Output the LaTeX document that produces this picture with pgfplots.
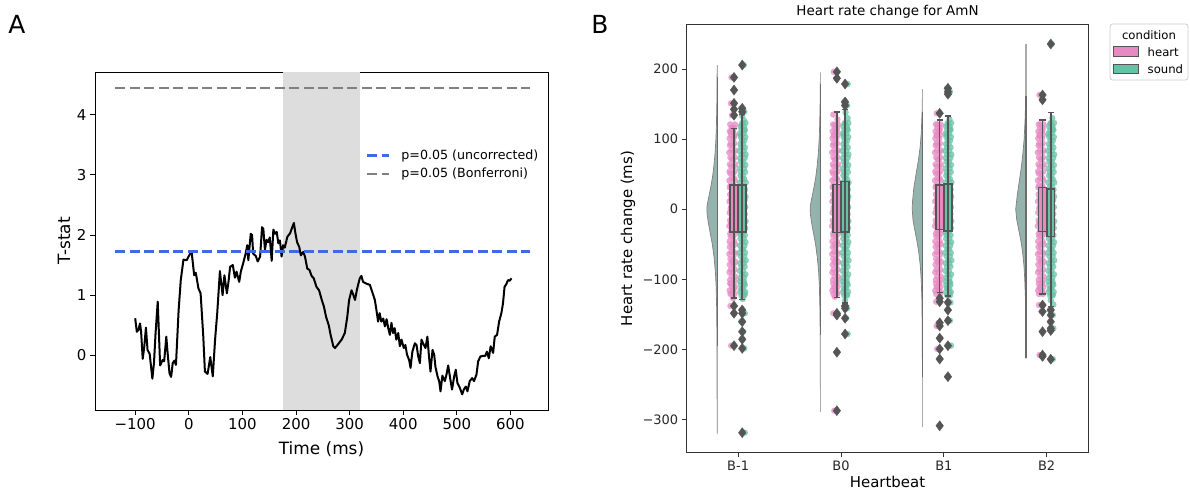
\documentclass[border=0pt]{standalone}
\usepackage{fontspec}
\setmainfont{DejaVu Sans}
\usepackage{pgfplots}
\usepackage{pgfplotstable}
\pgfplotsset{compat=1.18}
\definecolor{heartc}{HTML}{E78AC3}
\definecolor{soundc}{HTML}{66C2A5}
\definecolor{edgec}{HTML}{555555}
\definecolor{violc}{HTML}{94B3AD}
\definecolor{violedge}{HTML}{808080}
\definecolor{blueline}{HTML}{4169E1}
\definecolor{shadec}{HTML}{DDDDDD}

\pgfplotstableread{
y a b
-121 -0.018 0.020
-116 -0.027 0.008
-111 -0.006 0.024
-106 -0.020 0.013
-101 -0.022 0.018
-96 -0.008 0.027
-90 -0.028 0.006
-86 -0.015 0.021
-79 -0.025 0.012
-75 -0.004 0.029
-71 -0.019 0.009
-64 -0.029 0.024
-61 -0.011 0.015
-54 -0.024 0.003
-50 -0.006 0.026
-46 -0.027 0.017
-39 -0.016 0.008
-35 -0.021 0.028
-31 -0.009 0.013
-24 -0.030 0.020
-20 -0.013 0.005
-16 -0.023 0.025
-9 -0.003 0.016
-5 -0.026 0.010
1 -0.017 0.030
4 -0.010 0.007
11 -0.028 0.022
14 -0.014 0.012
21 -0.022 0.027
24 -0.005 0.004
31 -0.025 0.019
34 -0.018 0.011
41 -0.029 0.025
44 -0.008 0.016
51 -0.020 0.006
54 -0.027 0.023
61 -0.012 0.014
64 -0.024 0.029
71 -0.004 0.009
74 -0.019 0.020
81 -0.030 0.013
84 -0.010 0.026
91 -0.023 0.004
94 -0.015 0.018
101 -0.026 0.011
106 -0.012 0.022
111 -0.025 0.006
116 -0.007 0.017
121 -0.021 0.026
}\coreH

\pgfplotstableread{
y a b
-123 0.016 -0.012
-118 0.025 -0.024
-113 0.006 -0.005
-108 0.021 -0.019
-103 0.011 -0.027
-98 0.012 -0.021
-93 0.027 -0.006
-88 0.004 -0.028
-82 0.020 -0.013
-77 0.009 -0.024
-73 0.030 -0.003
-67 0.015 -0.018
-62 0.024 -0.030
-57 0.006 -0.010
-52 0.018 -0.025
-47 0.028 -0.007
-42 0.010 -0.022
-37 0.022 -0.015
-33 0.003 -0.027
-27 0.025 -0.012
-22 0.014 -0.029
-17 0.029 -0.004
-12 0.007 -0.019
-7 0.021 -0.024
-2 0.011 -0.008
3 0.026 -0.026
8 0.005 -0.016
13 0.019 -0.009
18 0.028 -0.023
23 0.013 -0.002
28 0.023 -0.020
33 0.008 -0.011
38 0.030 -0.028
43 0.016 -0.006
48 0.002 -0.021
53 0.024 -0.014
58 0.012 -0.027
63 0.027 -0.005
68 0.006 -0.017
73 0.020 -0.025
78 0.029 -0.010
83 0.010 -0.030
88 0.022 -0.013
93 0.004 -0.022
98 0.017 -0.007
103 0.026 -0.019
108 0.009 -0.026
113 0.022 -0.010
118 0.013 -0.021
123 0.028 -0.004
}\coreS

\begin{document}
\begin{tikzpicture}
\useasboundingbox (0,0) rectangle (1190bp,495bp);
% ---------------- Panel A ----------------
\begin{axis}[
  at={(95bp,85bp)}, anchor=south west, scale only axis,
  width=453bp, height=338bp,
  xmin=-175, xmax=670, ymin=-0.91, ymax=4.71,
  xtick={-100,0,100,200,300,400,500,600},
  xticklabels={−100,0,100,200,300,400,500,600},
  ytick={0,1,2,3,4}, yticklabels={0,1,2,3,4},
  tick align=outside, tick pos=left, major tick length=5bp,
  tick style={line width=0.9bp, black},
  tick label style={font=\fontsize{15}{18}\selectfont},
  axis line style={line width=0.9bp},
  legend style={draw=none, fill=none, at={(rel axis cs:0.595,0.775)}, anchor=north west,
    font=\fontsize{12.7}{15}\selectfont, row sep=5bp, inner sep=1bp,
    nodes={inner sep=1bp},
    /tikz/every odd column/.append style={column sep=10bp}},
  legend cell align=left,
  legend image code/.code={\draw[#1] (0bp,0bp) -- (22bp,0bp);},
]
\addplot[fill=shadec, draw=none, forget plot] coordinates {(175,-0.91) (320,-0.91) (320,4.71) (175,4.71)};
\addplot[black, line width=2bp, line join=round, forget plot] coordinates {
(-100,0.615) (-97,0.39) (-94,0.42) (-91,0.53) (-89,0.39) (-86,-0.06) (-83,0.15) (-80,0.46) (-77,0.09) (-73,0.02) (-68,-0.39) (-65,-0.13) (-62,0.37) (-58,0.89) (-53.5,-0.17) (-49,-0.08) (-46,-0.10) (-42,0.31) (-39,-0.02) (-36,-0.30) (-33,-0.36) (-30,-0.13) (-27,-0.09) (-24,-0.16) (-19,0.75) (-15,1.25) (-10,1.59) (-4,1.58) (2.4,1.69) (5.5,1.70) (10,1.33) (13,1.37) (18,1.11) (22,1.03) (27,0.31) (30,-0.27) (35,-0.31) (40,-0.03) (44.7,-0.35) (49,0.26) (53,0.70) (58,1.40) (63,1.00) (66.4,1.33) (71,1.03) (74,1.22) (77,1.47) (82,1.50) (86,1.29) (89,1.39) (94,1.22) (97,1.39) (102,1.55) (106,1.69) (109,1.83) (111,1.58) (115.5,2.02) (118,2.00) (120,1.69) (125,1.65) (128.5,1.56) (133,1.64) (136.6,2.13) (139,2.10) (142,1.75) (145,1.92) (148,1.88) (151,1.96) (154.6,1.57) (157.7,2.09) (161,2.02) (164,2.05) (167,1.86) (170,1.91) (173,1.64) (176,1.83) (179,1.79) (183.8,1.97) (189,2.03) (193,2.13) (196,2.20) (199,2.02) (202,1.88) (206,1.80) (209,1.66) (213.6,1.72) (216.7,1.64) (221,1.44) (225,1.42) (229,1.32) (233,1.28) (238,1.14) (243,1.08) (248,0.92) (252,0.81) (256,0.64) (261,0.50) (264.5,0.34) (269.5,0.15) (272.6,0.12) (279,0.19) (285,0.26) (291,0.37) (295.6,0.64) (299,0.92) (303.6,1.08) (307,1.00) (310,0.92) (314,1.11) (319,1.28) (322,1.32) (325,1.22) (331.6,1.19) (337.8,1.17) (343,1.03) (347,0.92) (350,0.75) (353,0.56) (356,0.70) (359,0.56) (362.7,0.61) (365.8,0.48) (368.9,0.60) (372,0.45) (375,0.34) (378,0.54) (381,0.37) (384,0.45) (387,0.26) (390.6,0.37) (393.7,0.15) (396.8,0.26) (401,0.12) (404,0.17) (407,0.01) (411,-0.08) (413.6,-0.21) (417,0.06) (421.7,0.20) (424.8,0.17) (427.9,-0.02) (431,-0.13) (434,0.26) (437,0.20) (441.5,0.12) (445,0.31) (448,-0.02) (450.8,-0.27) (454.6,0.09) (457.7,0.01) (460,-0.19) (463.9,-0.35) (467,-0.43) (469.5,-0.60) (473,-0.34) (477.6,-0.43) (480.7,-0.32) (483.8,-0.17) (488,-0.41) (491,-0.57) (495,-0.35) (498,-0.24) (501,-0.46) (505.5,-0.54) (509.9,-0.65) (513,-0.57) (516.7,-0.52) (519.8,-0.60) (524,-0.43) (528.5,-0.38) (532,-0.43) (536.6,-0.32) (539.7,-0.10) (544,-0.02) (549,-0.01) (553,-0.01) (556,0.06) (559.6,-0.05) (563,0.15) (567.6,0.04) (570.7,0.31) (575,0.34) (578.8,0.56) (583,0.70) (586,0.86) (589,1.14) (592,1.18) (595.5,1.25) (598.7,1.24) (601.8,1.28)
};
\addplot[blueline, line width=2.7bp, dash pattern=on 10bp off 4.5bp] coordinates {(-137,1.72) (636,1.72)};
\addlegendentry{p=0.05 (uncorrected)}
\addplot[gray, line width=2.7bp, dash pattern=on 10bp off 4.5bp] coordinates {(-137,4.445) (636,4.445)};
\addlegendentry{p=0.05 (Bonferroni)}
\end{axis}
\node[font=\fontsize{17}{20}\selectfont, rotate=90] at (64bp,254bp) {T-stat};
\node[font=\fontsize{17}{20}\selectfont] at (321.5bp,46bp) {Time (ms)};
\node[font=\fontsize{25}{30}\selectfont] at (17bp,471bp) {A};
\node[font=\fontsize{25}{30}\selectfont] at (600bp,471bp) {B};

% ---------------- Panel B ----------------
\begin{axis}[
  at={(686.7bp,42.7bp)}, anchor=south west, scale only axis,
  width=401.6bp, height=427.6bp,
  xmin=-0.5, xmax=3.405, ymin=-346.8, ymax=263.2,
  xtick={0,1,2,3}, xticklabels={B-1,B0,B1,B2},
  ytick={-300,-200,-100,0,100,200}, yticklabels={−300,−200,−100,0,100,200},
  tick align=outside, tick pos=left, major tick length=5bp,
  tick style={line width=0.9bp, black!80},
  tick label style={font=\fontsize{13}{15}\selectfont, text=black!85},
  axis line style={line width=0.9bp, black!80},
  unbounded coords=jump,
  clip marker paths=true,
  heartpts/.style={color=heartc, only marks, mark=*, mark size=3.2bp, mark options={draw opacity=0, fill=heartc, fill opacity=0.75}},
  soundpts/.style={color=soundc, only marks, mark=*, mark size=3.2bp, mark options={draw opacity=0, fill=soundc, fill opacity=0.75}},
  outl/.style={color=edgec, only marks, mark=diamond*, mark size=5bp, mark options={fill=edgec, draw=edgec}},
  bx/.style={draw=edgec, line width=1.5bp, line cap=rect, line join=miter},
  wh/.style={draw=edgec, line width=1.5bp},
  viol/.style={fill=violc, draw=violedge, line width=0.7bp},
]
% violins
\addplot[viol] coordinates {(-0.204,205) (-0.205,180) (-0.207,150) (-0.211,120) (-0.216,100) (-0.224,80) (-0.237,60) (-0.250,45) (-0.268,30) (-0.289,15) (-0.302,5) (-0.304,0) (-0.301,-8) (-0.289,-20) (-0.270,-35) (-0.251,-50) (-0.233,-70) (-0.221,-90) (-0.214,-110) (-0.209,-140) (-0.206,-180) (-0.2048,-240) (-0.204,-320)};
\addplot[viol] coordinates {(0.800,195) (0.799,170) (0.797,150) (0.793,120) (0.788,100) (0.780,80) (0.767,60) (0.754,45) (0.736,30) (0.715,15) (0.702,5) (0.700,0) (0.703,-8) (0.715,-20) (0.734,-35) (0.753,-50) (0.771,-70) (0.783,-90) (0.790,-110) (0.795,-140) (0.798,-180) (0.7992,-240) (0.800,-289)};
\addplot[viol] coordinates {(1.793,171) (1.789,140) (1.781,110) (1.771,90) (1.753,70) (1.730,50) (1.708,30) (1.695,10) (1.693,0) (1.700,-15) (1.718,-30) (1.738,-45) (1.755,-60) (1.771,-80) (1.780,-100) (1.787,-130) (1.790,-170) (1.792,-240) (1.793,-310)};
\addplot[viol] coordinates {(2.799,236) (2.798,200) (2.796,160) (2.791,130) (2.781,100) (2.769,80) (2.754,60) (2.734,40) (2.714,20) (2.699,0) (2.709,-15) (2.729,-30) (2.749,-45) (2.765,-60) (2.779,-80) (2.787,-100) (2.794,-130) (2.797,-170) (2.799,-213)};
% violin edge lines
\addplot[color=black!33, line width=1.2bp] coordinates {(-0.204,205.7) (-0.204,-319.7)};
\addplot[color=black!58, line width=1.2bp] coordinates {(-0.204,189) (-0.204,-194.7)};
\addplot[color=black!33, line width=1.2bp] coordinates {(0.800,194.7) (0.800,-288.8)};
\addplot[color=black!58, line width=1.2bp] coordinates {(0.800,178) (0.800,-180)};
\addplot[color=black!33, line width=1.2bp] coordinates {(1.793,171) (1.793,-310)};
\addplot[color=black!58, line width=1.2bp] coordinates {(1.793,139) (1.793,-239)};
\addplot[color=black!33, line width=1.2bp] coordinates {(2.799,235.7) (2.799,-212.7)};
\addplot[color=black!58, line width=1.2bp] coordinates {(2.799,161.5) (2.799,-212.7)};
% strip points: cores
\pgfplotsinvokeforeach{0,1,2,3}{
  \addplot[heartpts] table[x expr=#1-0.056+\thisrow{a}, y=y] {\coreH};
  \addplot[heartpts] table[x expr=#1-0.056+\thisrow{b}, y=y] {\coreH};
}
% strip points: tails (heart)
\addplot[heartpts] coordinates {(-0.07,110) (-0.04,104) (-0.06,116) (-0.05,112) (-0.075,-106) (-0.04,-113) (-0.06,-120) (-0.05,-127)
 (-0.065,188) (-0.035,170) (-0.07,151) (-0.045,142.5) (-0.06,134) (-0.075,-138) (-0.04,-148.5) (-0.068,-194.7)};
\addplot[heartpts] coordinates {(0.93,105) (0.96,112) (0.94,120) (0.965,128) (0.925,135) (0.955,-105) (0.93,-112) (0.96,-119) (0.94,-125)
 (0.93,196) (0.96,186.7) (0.925,-148.5) (0.955,-151) (0.965,-204) (0.935,-287.4)};
\addplot[heartpts] coordinates {(1.93,105) (1.96,113) (1.94,121) (1.955,-104) (1.93,-111) (1.96,-117)
 (1.93,136.8) (1.96,-127) (1.925,-132) (1.95,-162) (1.93,-166.6) (1.965,-184) (1.935,-199.4) (1.955,-213.7) (1.96,-309)};
\addplot[heartpts] coordinates {(2.93,105) (2.96,113) (2.94,121) (2.955,-105) (2.93,-112) (2.96,-118)
 (2.93,163) (2.955,156) (2.925,-136.7) (2.95,-146) (2.96,-174.7) (2.93,-208) (2.955,-210)};
\pgfplotsinvokeforeach{0,1,2,3}{
  \addplot[soundpts] table[x expr=#1+0.044+\thisrow{a}, y=y] {\coreS};
  \addplot[soundpts] table[x expr=#1+0.044+\thisrow{b}, y=y] {\coreS};
}
% strip points: tails (sound)
\addplot[soundpts] coordinates {(0.03,106) (0.06,113) (0.035,120) (0.055,127) (0.04,133) (0.06,-106) (0.03,-114) (0.065,-121) (0.045,-128)
 (0.055,205.7) (0.03,144) (0.06,139) (0.035,-143.8) (0.065,-148.5) (0.03,-160.5) (0.05,-174.7) (0.035,-185.6) (0.06,-198.5) (0.065,-318.8)};
\addplot[soundpts] coordinates {(1.03,106) (1.06,114) (1.035,122) (1.065,130) (1.045,138) (1.06,-106) (1.03,-114) (1.055,-122) (1.04,-130)
 (1.06,148) (1.03,153) (1.065,178.6) (1.035,-138) (1.06,-141.4) (1.05,-155.6) (1.065,-178)};
\addplot[soundpts] coordinates {(2.03,106) (2.06,114) (2.035,121) (2.055,128) (2.06,-105) (2.03,-112) (2.055,-119)
 (2.03,172.5) (2.06,167.6) (2.045,164) (2.065,-133) (2.035,-143.8) (2.06,-159) (2.07,-194.7) (2.035,-239)};
\addplot[soundpts] coordinates {(3.03,106) (3.06,114) (3.035,122) (3.055,130) (3.06,-106) (3.03,-114) (3.055,-122) (3.04,-130) (3.065,-136)
 (3.05,235.7) (3.03,-143.8) (3.06,-151) (3.035,-160.5) (3.065,-170) (3.04,-173) (3.06,-214)};
% boxes (quartiles), heart at c-0.04, sound at c+0.04, width 0.075
\addplot[bx, fill=heartc] coordinates {(-0.0775,-32.5) (-0.0025,-32.5) (-0.0025,34.5) (-0.0775,34.5) (-0.0775,-32.5)};
\addplot[bx, fill=soundc] coordinates {(0.0025,-32.6) (0.0775,-32.6) (0.0775,34.5) (0.0025,34.5) (0.0025,-32.6)};
\addplot[bx, fill=heartc] coordinates {(0.9225,-33) (0.9975,-33) (0.9975,35.5) (0.9225,35.5) (0.9225,-33)};
\addplot[bx, fill=soundc] coordinates {(1.0025,-32.6) (1.0775,-32.6) (1.0775,39.3) (1.0025,39.3) (1.0025,-32.6)};
\addplot[bx, fill=heartc] coordinates {(1.9225,-28.7) (1.9975,-28.7) (1.9975,34.5) (1.9225,34.5) (1.9225,-28.7)};
\addplot[bx, fill=soundc] coordinates {(2.0025,-30.8) (2.0775,-30.8) (2.0775,36) (2.0025,36) (2.0025,-30.8)};
\addplot[bx, fill=heartc] coordinates {(2.9225,-31.5) (2.9975,-31.5) (2.9975,31.2) (2.9225,31.2) (2.9225,-31.5)};
\addplot[bx, fill=soundc] coordinates {(3.0025,-39.2) (3.0775,-39.2) (3.0775,28.6) (3.0025,28.6) (3.0025,-39.2)};
% whiskers with caps
\addplot[wh] coordinates {(-0.07,-127) (-0.01,-127) (nan,nan) (-0.04,-127) (-0.04,115) (nan,nan) (-0.07,115) (-0.01,115)};
\addplot[wh] coordinates {(0.01,-128.6) (0.07,-128.6) (nan,nan) (0.04,-128.6) (0.04,135) (nan,nan) (0.01,135) (0.07,135)};
\addplot[wh] coordinates {(0.93,-125.7) (0.99,-125.7) (nan,nan) (0.96,-125.7) (0.96,139) (nan,nan) (0.93,139) (0.99,139)};
\addplot[wh] coordinates {(1.01,-134) (1.07,-134) (nan,nan) (1.04,-134) (1.04,142) (nan,nan) (1.01,142) (1.07,142)};
\addplot[wh] coordinates {(1.93,-119) (1.99,-119) (nan,nan) (1.96,-119) (1.96,127) (nan,nan) (1.93,127) (1.99,127)};
\addplot[wh] coordinates {(2.01,-123.8) (2.07,-123.8) (nan,nan) (2.04,-123.8) (2.04,133) (nan,nan) (2.01,133) (2.07,133)};
\addplot[wh] coordinates {(2.93,-121) (2.99,-121) (nan,nan) (2.96,-121) (2.96,127) (nan,nan) (2.93,127) (2.99,127)};
\addplot[wh] coordinates {(3.01,-139) (3.07,-139) (nan,nan) (3.04,-139) (3.04,137.7) (nan,nan) (3.01,137.7) (3.07,137.7)};
% outliers
\addplot[outl] coordinates {(-0.04,188) (-0.04,170) (-0.04,151) (-0.04,142.5) (-0.04,134) (-0.04,-138) (-0.04,-148.5) (-0.04,-194.7)
 (0.04,205.7) (0.04,144) (0.04,139) (0.04,-143.8) (0.04,-148.5) (0.04,-160.5) (0.04,-174.7) (0.04,-185.6) (0.04,-198.5) (0.04,-318.8)};
\addplot[outl] coordinates {(0.96,196) (0.96,186.7) (0.96,-148.5) (0.96,-151) (0.96,-204) (0.96,-287.4)
 (1.04,148) (1.04,153) (1.04,178.6) (1.04,-138) (1.04,-141.4) (1.04,-155.6) (1.04,-178)};
\addplot[outl] coordinates {(1.96,136.8) (1.96,-127) (1.96,-132) (1.96,-162) (1.96,-166.6) (1.96,-184) (1.96,-199.4) (1.96,-213.7) (1.96,-309)
 (2.04,172.5) (2.04,167.6) (2.04,164) (2.04,-133) (2.04,-143.8) (2.04,-159) (2.04,-194.7) (2.04,-239)};
\addplot[outl] coordinates {(2.96,163) (2.96,156) (2.96,-136.7) (2.96,-146) (2.96,-174.7) (2.96,-208) (2.96,-210)
 (3.04,235.7) (3.04,-143.8) (3.04,-151) (3.04,-160.5) (3.04,-170) (3.04,-173) (3.04,-214)};
\end{axis}
\node[font=\fontsize{15}{18}\selectfont, rotate=90] at (628bp,256.5bp) {Heart rate change (ms)};
\node[font=\fontsize{15}{18}\selectfont] at (887.5bp,13bp) {Heartbeat};
\node[font=\fontsize{13.5}{16}\selectfont] at (887.5bp,483bp) {Heart rate change for AmN};
% legend B
\draw[draw=black!20, fill=white, rounded corners=2.5bp, line width=0.8bp] (1110bp,415bp) rectangle (1188bp,471bp);
\node[font=\fontsize{11.7}{14}\selectfont] at (1149bp,459.5bp) {condition};
\draw[fill=heartc, draw=edgec, line width=1bp] (1113.3bp,438.3bp) rectangle (1138.3bp,448.3bp);
\node[anchor=west, inner sep=0pt, font=\fontsize{11.7}{14}\selectfont] at (1147.5bp,443.3bp) {heart};
\draw[fill=soundc, draw=edgec, line width=1bp] (1113.3bp,421bp) rectangle (1138.3bp,430.7bp);
\node[anchor=west, inner sep=0pt, font=\fontsize{11.7}{14}\selectfont] at (1147.5bp,425.8bp) {sound};
\end{tikzpicture}
\end{document}
